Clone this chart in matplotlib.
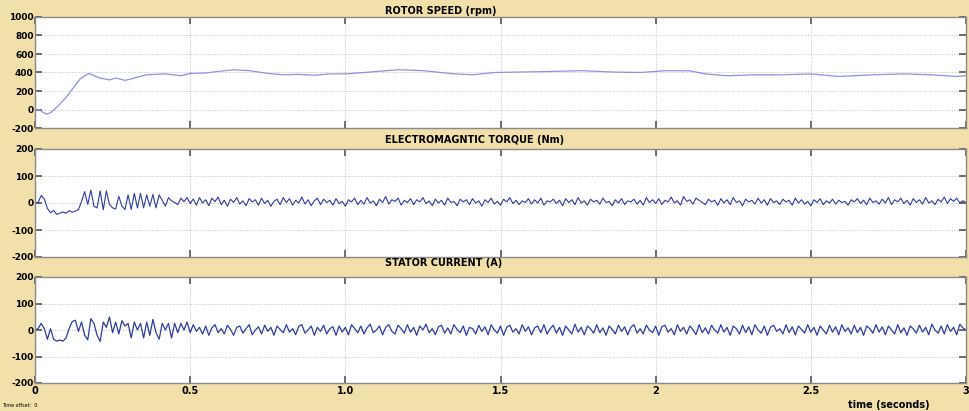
import numpy as np
import matplotlib
matplotlib.use("Agg")
import matplotlib.pyplot as plt

# ---------------- data ----------------
speed_time = [0, 0.013, 0.025, 0.038, 0.05, 0.075, 0.1, 0.125, 0.145, 0.165, 0.175,
              0.19, 0.21, 0.24, 0.26, 0.29, 0.31, 0.33, 0.36, 0.39, 0.42, 0.47, 0.5,
              0.55, 0.6, 0.64, 0.69, 0.75, 0.8, 0.85, 0.9, 0.95, 1.0, 1.08, 1.17,
              1.25, 1.35, 1.41, 1.48, 1.56, 1.65, 1.76, 1.86, 1.95, 2.035, 2.11,
              2.16, 2.23, 2.32, 2.41, 2.5, 2.59, 2.7, 2.8, 2.89, 2.97, 3.0]
speed_rpm = [0, 0, -30, -50, -35, 40, 130, 240, 330, 375, 390,
             365, 340, 320, 340, 315, 330, 350, 375, 380, 385, 365, 390,
             395, 415, 430, 420, 390, 375, 380, 370, 385, 385, 405, 430,
             420, 385, 375, 400, 405, 410, 420, 405, 400, 420, 418,
             385, 365, 375, 375, 385, 357, 375, 385, 375, 357, 365]

noise_time = [round(0.01 * i, 2) for i in range(301)]

torque_nm = [
    0, 2, 28, 15, -20, -36, -28, -42, -38, -33,
    -38, -28, -34, -30, -24, 5, 42, -5, 48, -12,
    -18, 45, -25, 45, -5, -18, -22, 25, -12, -24,
    30, -24, 36, -18, 36, -18, 30, -12, 32, -18,
    30, 10, -12, 20, 8, 2, -6, 18, 5, 20, -2,
    15, -8, 20, 0, 12, -10, 18, 5, 22, -6,
    10, -12, 14, 2, 20, -4, 8, -10, 16, 4,
    12, -8, 18, -2, 10, -12, 6, 14, -6, 20,
    2, 16, -8, 10, 0, 22, -4, 12, -10, 8,
    18, -6, 14, 2, 10, -8, 16, -2, 6, -12,
    12, 4, 18, -6, 10, -4, 20, 0, 8, -10,
    14, 2, 24, -4, 12, 6, 18, -8, 10, 2,
    16, -6, 12, 4, 20, -2, 8, -10, 14, 0,
    10, -8, 18, 2, 6, -10, 14, 4, 12, -6,
    16, 0, 8, -12, 12, 2, 18, -4, 6, -8,
    14, 4, 20, -2, 10, -6, 8, 2, 16, -4,
    12, 0, 18, -8, 8, 4, 14, -2, 10, -10,
    16, 2, 12, -6, 20, 0, 8, -8, 14, 4,
    10, -4, 18, 2, 6, -10, 12, 0, 16, -6,
    8, 4, 14, -4, 10, -8, 20, 2, 12, -2,
    16, -6, 10, 4, 22, 0, 8, -8, 24, 6,
    12, -4, 18, 10, 2, -6, 14, 4, 10, -8,
    16, 0, 12, -6, 20, 2, 8, -10, 14, 4,
    10, -4, 18, 0, 12, -8, 16, 2, 8, -6,
    14, 4, 10, -8, 18, 0, 12, -4, 6, -10,
    12, 2, 16, -6, 8, 0, 14, -4, 10, 2,
    6, -8, 12, 4, 16, -2, 10, -6, 18, 2,
    8, -4, 14, 0, 20, -6, 12, 4, 18, -2,
    10, -8, 16, 2, 12, -4, 20, 0, 8, -6,
    14, 4, 22, -2, 16, 6, 18, 0, 8, 2,
]

current_a = [
    0, 5, 25, 5, -35, 5, -35, -42, -38, -42,
    -30, 5, 32, 37, -5, 30, -20, -37, 43, 25,
    -20, -43, 30, 10, 49, -10, 30, -15, 35, 15,
    25, -30, 30, 0, 25, -30, 30, -20, 40, -10,
    -35, 25, 0, 25, -30, 25, -10, 25, 0, 30, -10,
    20, -5, 10, -15, 15, -20, 8, 20, -10, 5,
    -15, 18, 2, -20, 10, 15, -12, 5, 20, -18,
    0, 12, -15, 18, -5, 10, -20, 15, 2, -10,
    20, -8, 5, -18, 14, 20, -12, 0, 15, -20,
    10, -5, 18, -15, 5, 12, -20, 15, -8, 10,
    -18, 20, 5, -10, 15, -15, 8, 22, -10, 0,
    15, -18, 10, 20, -5, -15, 18, 5, -12, 20,
    -8, 10, -20, 15, 0, 22, -10, 5, -18, 12,
    18, -12, 8, -15, 20, 2, -10, 15, -20, 10,
    5, -15, 18, -5, 12, -18, 20, 0, -12, 15,
    -20, 10, 18, -8, 5, -15, 20, -5, 12, -18,
    8, 15, -10, 20, -15, 5, 18, -12, 10, -20,
    15, 0, -15, 22, -8, 10, -18, 15, 5, -12,
    20, -10, 8, -20, 15, 2, -15, 18, -5, 12,
    -18, 10, 20, -12, 5, -15, 18, 0, -10, 15,
    -20, 12, 18, -8, 5, -18, 20, -5, 10, -15,
    15, 2, -18, 20, -10, 8, -15, 18, 0, -12,
    20, -8, 10, -20, 15, 5, -15, 18, -10, 12,
    -18, 20, 0, -12, 15, -20, 10, 18, -5, 5,
    -15, 20, -10, 12, -18, 15, 2, -12, 20, -8,
    10, -20, 15, 0, -15, 18, -8, 12, -18, 20,
    -5, 8, -15, 18, -10, 10, -20, 15, 5, -12,
    20, -8, 12, -18, 15, 0, -15, 20, -10, 8,
    -20, 15, 5, -12, 18, -8, 10, -18, 22, 0,
    -12, 15, -15, 20, -5, 10, -18, 22, 8, 0,
]

titles = ["ROTOR SPEED (rpm)", "ELECTROMAGNTIC TORQUE (Nm)", "STATOR CURRENT (A)"]
speed_ticks = [-200, 0, 200, 400, 600, 800, 1000]
other_ticks = [-200, -100, 0, 100, 200]
x_ticks = [0, 0.5, 1.0, 1.5, 2, 2.5, 3]
x_ticklabels = ["0", "0.5", "1.0", "1.5", "2", "2.5", "3"]

# ---------------- figure ----------------
W, H = 969, 411
fig = plt.figure(figsize=(W / 100, H / 100), dpi=100)
bg = "#f1e0aa"
fig.patch.set_facecolor(bg)
plt.rcParams['font.family'] = ['DejaVu Sans']

left_px, right_px = 35, 966
boxes = [(17, 128), (149, 257), (277, 383)]
title_y = [11, 140, 263]

series = [
    (speed_time, speed_rpm, "#8f93d8", 0.9, (-200, 1000), speed_ticks),
    (noise_time, torque_nm, "#2f3d9c", 0.8, (-200, 200), other_ticks),
    (noise_time, current_a, "#2f3d9c", 0.9, (-200, 200), other_ticks),
]

axes = []
for i, ((top, bot), (tx, ty, col, lw, ylim, yt)) in enumerate(zip(boxes, series)):
    ax = fig.add_axes([left_px / W, 1 - bot / H, (right_px - left_px) / W, (bot - top) / H])
    ax.set_facecolor("white")
    ax.plot(tx, ty, color=col, lw=lw)
    ax.set_xlim(0, 3)
    ax.set_ylim(*ylim)
    ax.set_yticks(yt)
    ax.set_yticklabels([str(v) for v in yt], fontsize=6.5, fontweight='bold')
    ax.set_xticks(x_ticks)
    if i == 2:
        ax.set_xticklabels(x_ticklabels, fontsize=7, fontweight='bold')
    else:
        ax.set_xticklabels([])
    ax.grid(True, color="#c4c4c4", linestyle=(0, (1, 1.5)), linewidth=0.7)
    ax.tick_params(axis='both', direction='in', length=5, width=1.2, color="#555555",
                   top=True, right=True, pad=2)
    ax.tick_params(axis='y', pad=1)
    for s in ax.spines.values():
        s.set_color("#8a8a8a")
        s.set_linewidth(1.0)
    fig.text(385 / W, 1 - title_y[i] / H, titles[i], fontsize=7, fontweight='bold',
             ha='left', va='center')
    axes.append(ax)

fig.text(930 / W, 1 - 405 / H, "time (seconds)", fontsize=7, fontweight='bold',
         ha='right', va='center')
fig.text(2 / W, 1 - 405 / H, "Time offset:  0", fontsize=3.5, ha='left', va='center')

fig.savefig("out.png", dpi=100, facecolor=bg)
